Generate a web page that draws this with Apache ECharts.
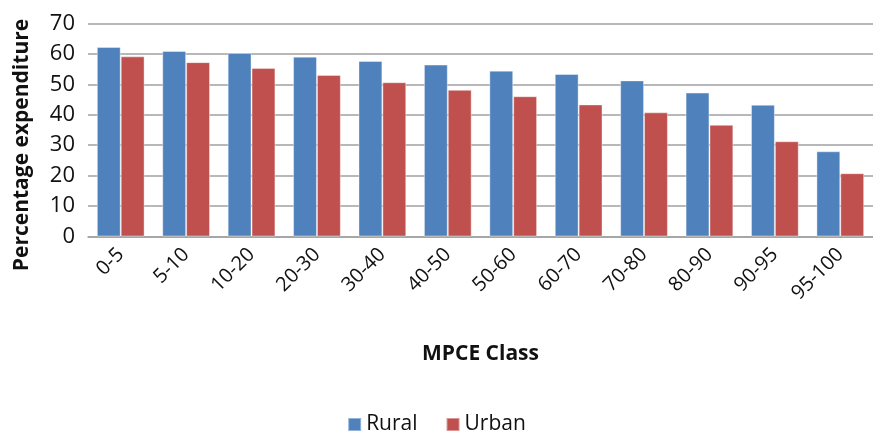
<!DOCTYPE html>
<html>
<head>
<meta charset="utf-8">
<script src="https://cdn.jsdelivr.net/npm/echarts@6/dist/echarts.min.js"></script>
<style>
  html, body { margin: 0; padding: 0; background: #fff; }
  #chart { width: 873px; height: 434px; }
</style>
</head>
<body>
<div id="chart"></div>
<script>
  var classes = ['0-5', '5-10', '10-20', '20-30', '30-40', '40-50', '50-60', '60-70', '70-80', '80-90', '90-95', '95-100'];
  var rural = [62.3, 61.0, 60.3, 59.1, 57.7, 56.5, 54.5, 53.4, 51.3, 47.3, 43.3, 28.0];
  var urban = [59.2, 57.3, 55.4, 53.1, 50.7, 48.2, 46.1, 43.4, 40.8, 36.7, 31.3, 20.8];
  var yTicks = [0, 10, 20, 30, 40, 50, 60, 70];

  var font = 'Open Sans, Liberation Sans, sans-serif';
  var chart = echarts.init(document.getElementById('chart'));

  var barStyle = function (color) {
    return {
      color: color,
      borderColor: 'rgba(255,255,255,0.4)',
      borderWidth: 1
    };
  };

  var option = {
    animation: false,
    textStyle: { fontFamily: font },
    grid: { left: 88, right: 0, top: 23.5, bottom: 197.5 },
    legend: {
      bottom: -6,
      left: 'center',
      itemWidth: 13,
      itemHeight: 13,
      itemGap: 28,
      icon: 'rect',
      textStyle: { fontSize: 21, color: '#111', fontFamily: font },
      data: ['Rural', 'Urban']
    },
    xAxis: {
      type: 'category',
      data: classes,
      axisTick: { show: false },
      axisLine: { lineStyle: { color: '#a0a0a0', width: 1.5 } },
      axisLabel: {
        rotate: 45,
        fontSize: 20,
        color: '#111',
        margin: 15,
        interval: 0
      },
      name: 'MPCE Class',
      nameLocation: 'middle',
      nameGap: 107,
      nameTextStyle: { fontSize: 21, fontWeight: 'bold', color: '#111' }
    },
    yAxis: {
      type: 'value',
      min: yTicks[0],
      max: yTicks[yTicks.length - 1],
      interval: 10,
      axisLine: { show: false },
      axisTick: { show: false },
      splitLine: { lineStyle: { color: '#a0a0a0', width: 1.5 } },
      axisLabel: { fontSize: 22, color: '#111', margin: 13 }
    },
    graphic: [{
      type: 'text',
      x: 22,
      y: 145,
      rotation: Math.PI / 2,
      style: {
        text: 'Percentage expenditure',
        font: 'bold 21px ' + font,
        fill: '#111',
        align: 'center',
        verticalAlign: 'middle'
      }
    }],
    series: [{
      name: 'Rural',
      type: 'bar',
      data: rural,
      barGap: '0%',
      barCategoryGap: '27%',
      itemStyle: barStyle('#4F81BD')
    }, {
      name: 'Urban',
      type: 'bar',
      data: urban,
      itemStyle: barStyle('#C0504D')
    }]
  };

  chart.setOption(option);
</script>
</body>
</html>
